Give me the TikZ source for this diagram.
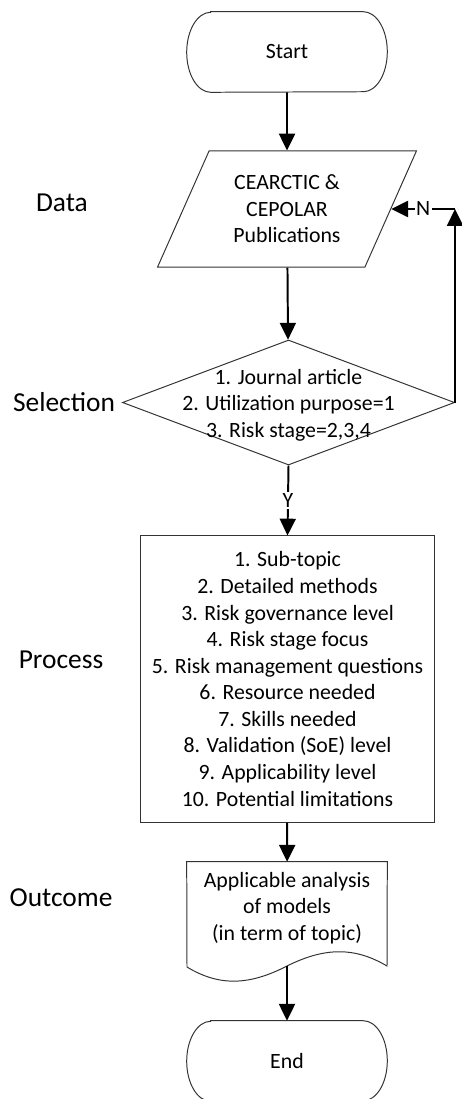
\documentclass[tikz,border=0pt]{standalone}
\usepackage{fontspec}
\setmainfont{Carlito}
\usetikzlibrary{arrows.meta,shapes.geometric}
\tikzset{
  boxtext/.style={font=\fontsize{15.5}{18.9}\selectfont, align=center, inner sep=0pt},
  outline/.style={draw=black!80, line width=0.7pt},
  terminal/.style={boxtext, rectangle, minimum width=5cm, minimum height=2cm},
  sidelabel/.style={font=\fontsize{19.5}{23}\selectfont, inner sep=0pt},
  conn/.style={line width=1.4pt, -{Triangle[width=0.4cm,length=0.42cm]}},
  branch/.style={fill=white, font=\fontsize{15.5}{18}\selectfont, inner sep=1pt},
}
\def\termoutline(#1){\draw[outline] ([xshift=0.6cm]#1.north west) -- ([xshift=-0.6cm]#1.north east) arc[start angle=90, end angle=-90, x radius=0.6cm, y radius=1cm] -- ([xshift=0.6cm]#1.south west) arc[start angle=270, end angle=90, x radius=0.6cm, y radius=1cm] -- cycle;}

\begin{document}
\begin{tikzpicture}[x=0.025cm, y=-0.025cm]
			%%%%% START %%%%%
			\useasboundingbox (0, 0) rectangle (461, 1099);
			
			\node[terminal] (start) at (287, 52) {Start};
			\termoutline(start)
			
			\node[outline, boxtext, trapezium, trapezium left angle=62.6, trapezium right angle=117.4, trapezium stretches=true, minimum width=6.475cm, minimum height=2.9cm] (pubs) at (287, 209) {CEARCTIC \&\\CEPOLAR\\Publications};
			
			\node[outline, diamond, inner sep=0pt, aspect=2.66, minimum width=8.3cm, minimum height=3.125cm] (select) at (288.5, 402.5) {};
			\node[boxtext] (selecttext) at (288.5, 405) {1. Journal article\\2. Utilization purpose=1\\3. Risk stage=2,3,4};
			
			\node[outline, boxtext, rectangle, minimum width=7.325cm, minimum height=7.15cm] (proc) at (287.5, 679) {1. Sub-topic\\2. Detailed methods\\3. Risk governance level\\4. Risk stage focus\\5. Risk management questions\\6. Resource needed\\7. Skills needed\\8. Validation (SoE) level\\9. Applicability level\\10. Potential limitations};
			
			\node[boxtext, minimum width=5cm, minimum height=2.3cm] (outcome) at (287, 908) {Applicable analysis\\of models\\(in term of topic)};
			\coordinate (wavemid) at (287, 966);
			\draw[outline] (outcome.north west) -- (outcome.north east) -- (387, 966) .. controls (355, 947) and (325, 947) .. (wavemid) .. controls (250, 985) and (220, 987) .. (187, 967) -- cycle;
			
			\node[terminal] (end) at (287, 1061) {End};
			\termoutline(end)
			
			% stage names
			\node[sidelabel] (data) at (62, 203) {Data};
			\node[sidelabel] (selection) at (64, 402) {Selection};
			\node[sidelabel] (process) at (61, 660) {Process};
			\node[sidelabel] (result) at (61, 898) {Outcome};
			
			% flow
			\draw[conn] (start) -- (pubs);
			\draw[conn] (pubs) -- (select);
			\draw[conn] (select.south) -- node[branch] {Y} (proc.north);
			\coordinate (loop) at (select.east |- pubs.east);
			\draw[conn] (select.east) -- (loop);
			\draw[conn] (loop) -- node[branch] {N} (pubs.east);
			\draw[conn] (proc) -- (outcome);
			\draw[conn] (wavemid) -- (end);
			
			%%%%% END %%%%%
\end{tikzpicture}
\end{document}
